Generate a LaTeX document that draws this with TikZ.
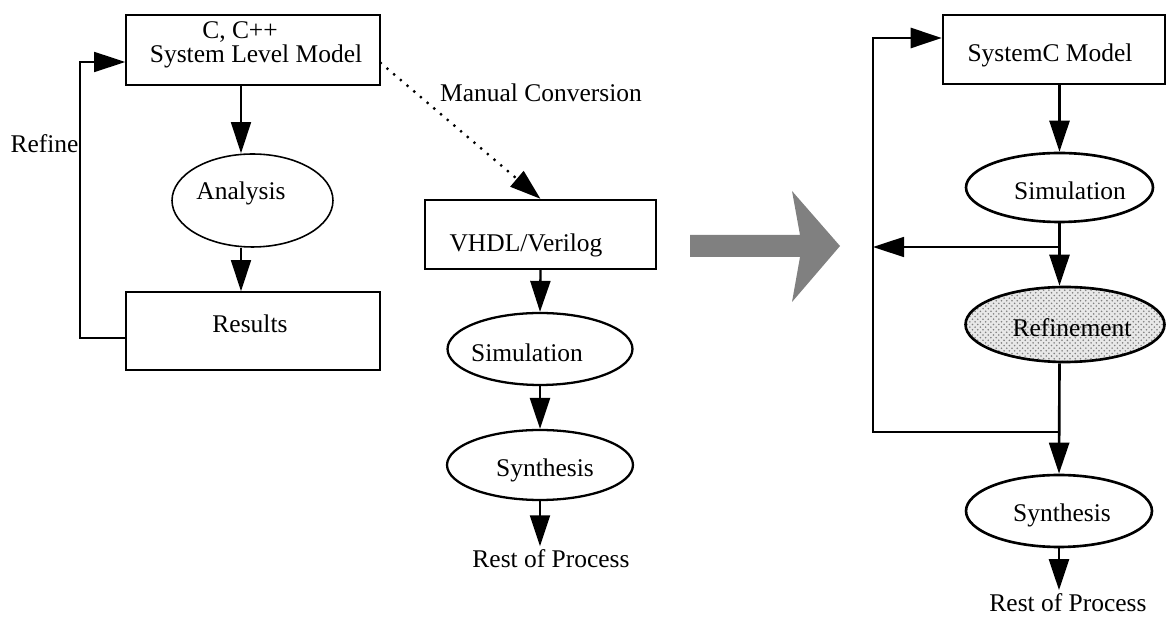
\documentclass[tikz,border=0pt]{standalone}
\usepackage{fontspec}
\setmainfont{Liberation Serif}
\usepackage{tikz}
\usetikzlibrary{shapes.geometric,arrows.meta,patterns,calc}

\tikzset{
  blk/.style={draw, rectangle, inner sep=0pt},
  oval/.style={draw, ellipse, inner sep=0pt},
  txt/.style={anchor=base, inner sep=1.5pt, font=\fontsize{14.5}{14.5}\selectfont},
  arr/.style={-{Triangle[length=0.62cm,width=0.4cm]}},
  dots/.style={line width=1.8pt, dash pattern=on 0pt off 5pt, line cap=round},
}

\begin{document}
\begin{tikzpicture}[x=0.02cm, y=-0.02cm]
    \useasboundingbox (0,0) rectangle (1167,617);

    % Left: C/C++ system level flow
    \begin{scope}[line width=0.9pt]
    \node[blk, minimum width=5.08cm, minimum height=1.4cm] (slm) at (253,50) {};
    \node[txt] (slm-t1) at (240,39) {C, C++};
    \node[txt] (slm-t2) at (256,63) {System Level Model};
    \node[oval, minimum width=3.22cm, minimum height=1.86cm] (analysis) at (252.5,200.5) {};
    \node[txt] (analysis-t) at (241,200) {Analysis};
    \node[blk, minimum width=5.08cm, minimum height=1.56cm] (results) at (253,331) {};
    \node[txt] (results-t) at (250,333) {Results};
    \node[txt] (refine-t) at (44.5,153) {Refine};
    \coordinate (refl) at (80,62);

    \draw[arr] (slm.south -| analysis-t) -- (analysis.north -| analysis-t);
    \draw[arr] (analysis.south -| analysis-t) -- (results.north -| analysis-t);
    \draw[arr] ([yshift=-0.14cm]results.west) -| (refl) -- (slm.west |- refl);
    \end{scope}

    % Middle: VHDL/Verilog flow
    \begin{scope}[line width=1.3pt]
    \node[blk, minimum width=4.62cm, minimum height=1.38cm] (vhdl) at (540.5,234.5) {};
    \node[txt] (vhdl-t) at (526,252) {VHDL/Verilog};
    \node[oval, minimum width=3.7cm, minimum height=1.44cm] (sim1) at (540,349) {};
    \node[txt] (sim1-t) at (527,362) {Simulation};
    \node[oval, minimum width=3.72cm, minimum height=1.4cm] (syn1) at (540,465) {};
    \node[txt] (syn1-t) at (545,477) {Synthesis};
    \node[txt] (rest1) at (551,568) {Rest of Process};
    \node[txt] (manual-t) at (541,102) {Manual Conversion};

    \draw[arr, dots] ([yshift=-0.26cm]slm.east) -- (vhdl.north);
    \draw[arr] (vhdl.south) -- (sim1.north);
    \draw[arr] (sim1.south) -- (syn1.north);
    \draw[arr] (syn1.south) -- (rest1.north -| syn1);
    \end{scope}

    % Big arrow
    \fill[gray] (690,235) -- (800,235) -- (792,191) -- (840,246) -- (792,302)
        -- (800,257) -- (690,257) -- cycle;

    % Right: SystemC flow
    \begin{scope}[line width=1.5pt]
    \node[blk, minimum width=4.44cm, minimum height=1.38cm] (sysc) at (1054,49.5) {};
    \node[txt] (sysc-t) at (1050,62) {SystemC Model};
    \node[oval, minimum width=3.74cm, minimum height=1.38cm] (sim2) at (1059.5,187.5) {};
    \node[txt] (sim2-t) at (1070,200) {Simulation};
    \node[oval, minimum width=3.98cm, minimum height=1.5cm,
          preaction={fill=gray!18}, pattern=crosshatch dots, pattern color=gray] (ref) at (1065,324.5) {};
    \node[txt] (ref-t) at (1072,337) {Refinement};
    \node[oval, minimum width=3.72cm, minimum height=1.44cm] (syn2) at (1059,511) {};
    \node[txt] (syn2-t) at (1062,522) {Synthesis};
    \node[txt] (rest2) at (1068,612) {Rest of Process};
    \coordinate (back) at (873,38);
    \coordinate (j1) at (1059,247);
    \coordinate (j2) at (1059,432);

    \draw[arr] (sysc.south -| sim2) -- (sim2.north);
    \draw[arr] (sim2.south) -- (ref.north -| sim2);
    \draw[arr, line width=0.9pt] (j1) -- (back |- j1);
    \draw[arr] (ref.south -| sim2) -- (syn2.north);
    \draw[arr] (j2) -| (back) -- (sysc.west |- back);
    \draw[arr] (syn2.south) -- (rest2.north -| syn2);
    \end{scope}
\end{tikzpicture}
\end{document}
